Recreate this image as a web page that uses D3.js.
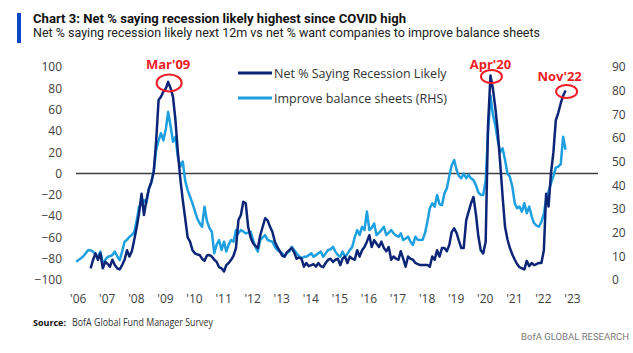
<!DOCTYPE html>
<html>
<head>
<meta charset="utf-8">
<script src="https://cdn.jsdelivr.net/npm/d3@7"></script>
<style>
  body { margin: 0; background: #fff; }
  svg { display: block; font-family: "Open Sans", sans-serif; }
</style>
</head>
<body>
<svg id="chart" width="633" height="353"></svg>
<script>
// Net % saying recession likely (LHS), monthly from Jul 2006 to Nov 2022
const recessionStart = "2006-07";
const recession = [
  -89, -81, -75, -81, -75, -89,
  -83, -85, -87.5, -81, -86, -89, -90, -86, -81, -72, -78, -73,
  -62, -50, -37, -19, -39, -25, -15, -8, 1.7, 30, 69, 72,
  77, 80, 86, 80, 72, 50, 20, -5, -25, -42, -60, -64,
  -72, -75, -76, -76.5, -80, -82, -77, -76.5, -78, -81, -83, -88,
  -89, -92, -86, -84, -81, -77, -70, -43.7, -39, -26.5, -28, -50,
  -60, -65.5, -68, -70, -58, -50, -42, -44, -50, -55, -64, -69,
  -73, -77, -78, -74, -72, -70, -74, -80, -79, -80, -87.5, -84,
  -87, -86, -85, -87.5, -84, -87, -88, -84, -81, -80, -83, -81,
  -80, -86, -80, -78, -84, -78, -80, -81, -72, -78, -72, -69,
  -64, -58, -69, -62.5, -66, -69, -64, -70, -73, -69, -81, -78,
  -80, -81, -73, -80, -87.5, -78, -80, -81, -84, -85, -86, -86,
  -86, -86, -87.5, -78, -81, -72, -78, -70, -70, -73, -67, -55,
  -51.5, -56, -63, -70, -70, -44, -36, -28, -22, -38, -59, -72,
  -75, -64, 44, 92, 80, 62, 40, 10, -22, -50, -62, -70,
  -76, -81, -85, -88, -89, -90, -82, -87, -84, -86, -85, -84,
  -84, -72, -19, -31, 0, 20, 50, 57, 66, 73, 78
];

// Net % want companies to improve balance sheets (RHS), Jan 2006 to Nov 2022
const balanceStart = "2006-01";
const balanceSheets = [
  7.7, 8.5, 9.2, 10, 11.3, 12.7, 12.5, 12, 10.5, 9.8, 12, 7,
  8.5, 9.8, 10, 10.6, 12, 10, 8.4, 12, 16.2, 17, 18.3, 19,
  20.4, 25.3, 31, 32, 33.8, 32.4, 38.7, 41, 46, 55, 59, 62,
  59, 64, 71, 65, 58.4, 60.5, 52, 47.9, 50, 42, 38, 35.2,
  32.4, 29, 26, 24, 22.5, 31, 25, 22, 20.4, 11.3, 15, 16.9,
  12.7, 16.2, 12, 15, 16.9, 16.2, 21.1, 19.7, 21.1, 20.5, 19.7, 20,
  20.4, 17, 14, 12, 16.9, 18, 19, 16.9, 16.5, 16.2, 14, 12.7,
  12, 11.3, 9.8, 11.5, 12, 14, 12.7, 11.3, 10, 9.2, 9.8, 9.8,
  10.5, 11.3, 9.8, 10.5, 11.3, 12, 9.8, 11.3, 12.7, 13, 14, 12,
  10.5, 9.8, 12, 9.8, 11, 12.7, 14, 18, 21.1, 19, 22.5, 21.1,
  28.9, 21.1, 22, 23.9, 19, 20, 21.1, 22.5, 19, 20, 21.1, 19.7,
  18.8, 18.3, 19.7, 16.9, 17.5, 18.3, 16.2, 14.8, 18.3, 17, 16.9, 17,
  20, 25, 30.3, 32.4, 31, 35.9, 32, 31.7, 36.6, 38.7, 44, 48.5,
  50.7, 46.5, 44, 43, 45, 43, 44.4, 43, 42.2, 40.1, 37, 36,
  35.9, 42, 62, 78, 70, 65.5, 59, 54, 55.6, 50.7, 45, 43.6,
  39.4, 32.4, 30.3, 31, 28.9, 32.4, 28.2, 31, 26.8, 24, 23, 22.5,
  24.6, 28, 34, 37.5, 40.8, 44, 47.5, 47.9, 49, 60.5, 55
];

const years = [2006, 2007, 2008, 2009, 2010, 2011, 2012, 2013, 2014,
  2015, 2016, 2017, 2018, 2019, 2020, 2021, 2022, 2023];
const yearLabels = ["'06", "'07", "'08", "'09", "'10", "'11", "'12", "'13", "'14",
  "'15", "'16", "'17", "'18", "'19", "'20", "'21", "'22", "'23"];
const leftTicks = [100, 80, 60, 40, 20, 0, -20, -40, -60, -80, -100];
const rightTicks = [0, 10, 20, 30, 40, 50, 60, 70, 80, 90];

const calloutLabels = ["Mar'09", "Apr'20", "Nov'22"];
const calloutDates = ["2009-03", "2020-04", "2022-11"];

const navy = "#0c2577";
const sky = "#1e9fe0";
const red = "#ee1c25";

const parseMonth = d3.timeParse("%Y-%m");

// attach a date to each monthly value
function toSeries(start, values) {
  const s = parseMonth(start);
  return values.map((v, i) => ({ date: d3.timeMonth.offset(s, i), value: v }));
}
const recSeries = toSeries(recessionStart, recession);
const balSeries = toSeries(balanceStart, balanceSheets);

const svg = d3.select("#chart");

const x = d3.scaleTime()
  .domain([new Date(2006, 0, 1), new Date(2022, 10, 1)])
  .range([76.2, 565.6]);
const yL = d3.scaleLinear().domain([-100, 100]).range([280, 67]);
const yR = d3.scaleLinear().domain([0, 90]).range([280, 67]);

// header
svg.append("rect").attr("x", 17).attr("y", 13).attr("width", 4).attr("height", 30)
  .attr("fill", "#0a47c8");
svg.append("text").attr("x", 33).attr("y", 23)
  .attr("font-family", "'Liberation Sans Narrow', 'Roboto', sans-serif")
  .attr("font-weight", "bold").attr("font-size", 13.5).attr("fill", "#111")
  .attr("textLength", 373).attr("lengthAdjust", "spacingAndGlyphs")
  .text("Chart 3: Net % saying recession likely highest since COVID high");
svg.append("text").attr("x", 33).attr("y", 37)
  .attr("font-family", "'Liberation Sans Narrow', 'Roboto', sans-serif")
  .attr("font-size", 13).attr("fill", "#222")
  .attr("textLength", 507).attr("lengthAdjust", "spacingAndGlyphs")
  .text("Net % saying recession likely next 12m vs net % want companies to improve balance sheets");

// axes
const axisL = svg.append("g").attr("transform", "translate(62,0)")
  .call(d3.axisLeft(yL).tickValues(leftTicks).tickSize(0).tickPadding(0));
const axisR = svg.append("g").attr("transform", "translate(612,0)")
  .call(d3.axisRight(yR).tickValues(rightTicks).tickSize(0).tickPadding(0));
const axisX = svg.append("g").attr("transform", "translate(1.5,294)")
  .call(d3.axisBottom(x)
    .tickValues(years.map(y => new Date(y, 0, 1)))
    .tickFormat((d, i) => yearLabels[i])
    .tickSize(0).tickPadding(0));

[axisL, axisR, axisX].forEach(a => {
  a.select(".domain").remove();
  a.selectAll("text").attr("font-family", "'Open Sans', sans-serif")
    .attr("font-size", 12).attr("fill", "#404040");
});

// zero line
svg.append("line")
  .attr("x1", 76).attr("x2", 598)
  .attr("y1", yL(0)).attr("y2", yL(0))
  .attr("stroke", "#404040").attr("stroke-width", 1.5);

// series
svg.append("path").datum(balSeries)
  .attr("fill", "none").attr("stroke", sky).attr("stroke-width", 2.5)
  .attr("stroke-linejoin", "round")
  .attr("d", d3.line().x(d => x(d.date)).y(d => yR(d.value)));

svg.append("path").datum(recSeries)
  .attr("fill", "none").attr("stroke", navy).attr("stroke-width", 2.5)
  .attr("stroke-linejoin", "round")
  .attr("d", d3.line().x(d => x(d.date)).y(d => yL(d.value)));

// legend
const legend = [
  { name: "Net % Saying Recession Likely", color: navy, y: 73 },
  { name: "Improve balance sheets (RHS)", color: sky, y: 98 }
];
legend.forEach(l => {
  svg.append("line").attr("x1", 238).attr("x2", 272).attr("y1", l.y).attr("y2", l.y)
    .attr("stroke", l.color).attr("stroke-width", 3);
  svg.append("text").attr("x", 274).attr("y", l.y + 4.5)
    .attr("font-size", 12.5).attr("fill", "#333").text(l.name);
});

// callouts around the peaks
calloutDates.forEach((dStr, i) => {
  const pt = recSeries.find(p => +p.date === +parseMonth(dStr));
  const cx = x(pt.date), cy = yL(pt.value);
  svg.append("ellipse").attr("cx", cx + 1).attr("cy", cy + 1)
    .attr("rx", i === 0 ? 12.5 : 10.5).attr("ry", i === 0 ? 8.5 : 6.5)
    .attr("fill", "none").attr("stroke", red).attr("stroke-width", 2);
  svg.append("text").attr("x", cx - (i === 2 ? 6 : 0)).attr("y", i === 2 ? cy - 9 : cy - 7 - (i === 0 ? 6 : 0))
    .attr("text-anchor", "middle").attr("font-weight", "bold")
    .attr("font-size", 13).attr("fill", red).text(calloutLabels[i]);
});

// footer
svg.append("text").attr("x", 33).attr("y", 326)
  .attr("font-size", 9.5).attr("font-weight", "bold").attr("fill", "#111")
  .attr("textLength", 33).attr("lengthAdjust", "spacingAndGlyphs")
  .text("Source:");
svg.append("text").attr("x", 72).attr("y", 326)
  .attr("font-size", 10).attr("fill", "#333")
  .attr("textLength", 141).attr("lengthAdjust", "spacingAndGlyphs")
  .text("BofA Global Fund Manager Survey");
svg.append("text").attr("x", 629).attr("y", 340)
  .attr("text-anchor", "end")
  .attr("font-family", "Roboto, sans-serif")
  .attr("font-size", 9.5).attr("fill", "#7a7a7a")
  .text("BofA GLOBAL RESEARCH");
</script>
</body>
</html>
